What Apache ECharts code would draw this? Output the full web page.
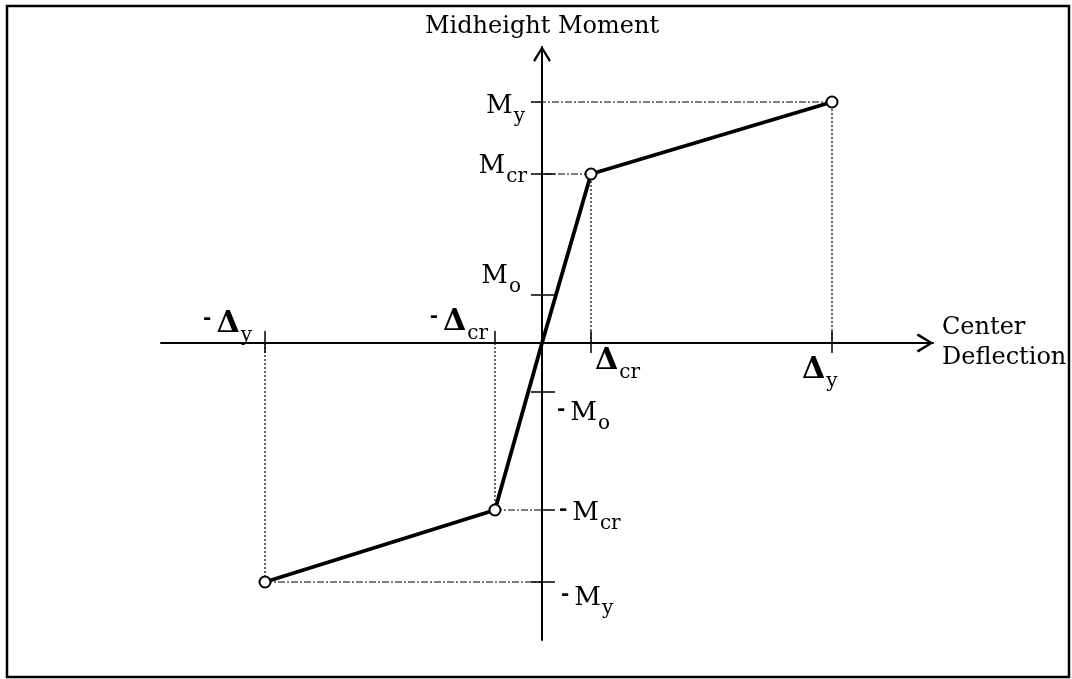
<!DOCTYPE html>
<html>
<head>
<meta charset="utf-8">
<script src="https://cdn.jsdelivr.net/npm/echarts@6/dist/echarts.min.js"></script>
<style>
  html, body { margin: 0; padding: 0; background: #fff; }
  #chart { width: 1072px; height: 679px; }
</style>
</head>
<body>
<div id="chart"></div>
<script>
// values (arbitrary units, origin at 0)
const curveX = [-2.77, -0.47, 0, 0.49, 2.90];
const curveY = [-2.39, -1.67, 0, 1.69, 2.41];

const momentTicks = [2.41, 1.69, 0.48, -0.49, -1.67, -2.39];
const momentTickLabels = ["M_y", "M_cr", "M_o", "-M_o", "-M_cr", "-M_y"];

const deflTicks = [-2.77, -0.47, 0.49, 2.90];
const deflTickLabels = ["-Δ_y", "-Δ_cr", "Δ_cr", "Δ_y"];

const FONT = "DejaVu Serif";

// label placement relative to its tick: [dx, dy, align]
const momentLabelPos = [
  [-17, -9, "right"], [-15, -21, "right"], [-21, -32, "right"],
  [15, 8, "left"], [17, -10, "left"], [19, 3, "left"]
];
const deflLabelPos = [
  [-13, -34, "right"], [-7, -36, "right"], [4, 3, "left"], [-30, 12, "left"]
];

const toRich = (s) => {
  let out = "";
  let t = s;
  if (t[0] === "-") { out += "{d|-}"; t = t.slice(1); }
  const [base, sub] = t.split("_");
  if (base === "Δ") {
    out += "{D|Δ}{ds|" + sub + "}";
  } else {
    out += "{m|" + base + "}{s|" + sub + "}";
  }
  return out;
};

const rich = {
  m: { fontFamily: FONT, fontSize: 26, lineHeight: 28, color: "#000", verticalAlign: "top" },
  s: { fontFamily: FONT, fontSize: 20, lineHeight: 20, color: "#000", verticalAlign: "top", padding: [14, 0, 0, 1] },
  d: { fontFamily: FONT, fontSize: 20, fontWeight: "bold", lineHeight: 28, color: "#000", verticalAlign: "top", padding: [0, 5, 0, 0] },
  D: { fontFamily: FONT, fontSize: 30, fontWeight: "bold", lineHeight: 30, color: "#000", verticalAlign: "top" },
  ds: { fontFamily: FONT, fontSize: 20, lineHeight: 20, color: "#000", verticalAlign: "top", padding: [17, 0, 0, 1] }
};

const makeLabel = (text, p) => ({
  show: true, color: "#000", opacity: 1, textBorderWidth: 0,
  formatter: toRich(text), position: [p[0], p[1]], align: p[2], verticalAlign: "top", rich
});

const labelItems = [];
momentTicks.forEach((v, i) => {
  labelItems.push({ value: [0, v], label: makeLabel(momentTickLabels[i], momentLabelPos[i]) });
});
deflTicks.forEach((v, i) => {
  labelItems.push({ value: [v, 0], label: makeLabel(deflTickLabels[i], deflLabelPos[i]) });
});

// dotted guides from each corner point back to the axes
const guideV = [];
const guideH = [];
curveX.forEach((x, i) => {
  if (x === 0) return;
  guideV.push([x, 0], [x, curveY[i]], "-");
  guideH.push([x, curveY[i]], [0, curveY[i]], "-");
});

const chevron = "path://M10,0 L20,16 L18,18 L10,4.5 L2,18 L0,16 Z";

const axisLineBase = (show) => ({
  show: true,
  onZero: true,
  onZeroAxisIndex: 0,
  lineStyle: { color: show ? "#000" : "rgba(0,0,0,0)", width: 2 }
});

const option = {
  backgroundColor: "#fff",
  animation: false,
  grid: { left: 161, right: 139, top: 47, bottom: 39 },
  graphic: [
    {
      type: "rect",
      shape: { x: 7, y: 6, width: 1062, height: 671 },
      style: { fill: "none", stroke: "#000", lineWidth: 2.5 },
      z: 100
    }
  ],
  xAxis: [
    {
      type: "value", position: "bottom", min: -3.81, max: 3.91,
      name: "Center\nDeflection", nameLocation: "end", nameGap: 9,
      nameTextStyle: { fontFamily: FONT, fontSize: 24, color: "#000", align: "left", lineHeight: 30, padding: [13, 0, 0, 0] },
      axisLine: Object.assign(axisLineBase(true), { symbol: ["none", chevron], symbolSize: [19, 17], symbolOffset: [0, -8] }),
      axisTick: { show: true, length: 10, customValues: [deflTicks[0], deflTicks[2], deflTicks[3]], lineStyle: { color: "#000", width: 1.5 } },
      axisLabel: { show: false },
      splitLine: { show: false }
    },
    {
      type: "value", position: "top", min: -3.81, max: 3.91,
      axisLine: axisLineBase(false),
      axisTick: { show: true, length: 12, customValues: deflTicks, lineStyle: { color: "#000", width: 1.5 } },
      axisLabel: { show: false },
      splitLine: { show: false }
    }
  ],
  yAxis: [
    {
      type: "value", position: "left", min: -2.97, max: 2.96,
      name: "Midheight Moment", nameLocation: "end", nameGap: 8,
      nameTextStyle: { fontFamily: FONT, fontSize: 24, color: "#000" },
      axisLine: Object.assign(axisLineBase(true), { symbol: ["none", chevron], symbolSize: [18, 16], symbolOffset: [0, -7] }),
      axisTick: { show: true, length: 11, customValues: [momentTicks[0], momentTicks[1], momentTicks[2], momentTicks[3], momentTicks[5]], lineStyle: { color: "#000", width: 1.5 } },
      axisLabel: { show: false },
      splitLine: { show: false }
    },
    {
      type: "value", position: "right", min: -2.97, max: 2.96,
      axisLine: axisLineBase(false),
      axisTick: { show: true, length: 13, customValues: [momentTicks[1], momentTicks[2], momentTicks[3], momentTicks[4], momentTicks[5]], lineStyle: { color: "#000", width: 1.5 } },
      axisLabel: { show: false },
      splitLine: { show: false }
    }
  ],
  series: [
    {
      name: "guideV", type: "line", data: guideV, symbol: "none", connectNulls: false,
      lineStyle: { color: "#000", width: 1.2, type: [2, 2] }, z: 2, silent: true
    },
    {
      name: "guideH", type: "line", data: guideH, symbol: "none", connectNulls: false,
      lineStyle: { color: "#000", width: 1.2, type: [7, 2, 2, 2] }, z: 2, silent: true
    },
    {
      name: "moment", type: "line",
      data: curveX.map((x, i) => (x === 0 ? { value: [x, curveY[i]], symbol: "none" } : [x, curveY[i]])),
      symbol: "circle", symbolSize: 11, showAllSymbol: true,
      lineStyle: { color: "#000", width: 3.8 },
      itemStyle: { color: "#fff", borderColor: "#000", borderWidth: 2 },
      z: 5
    },
    {
      name: "labels", type: "scatter", data: labelItems, symbolSize: 0,
      itemStyle: { color: "#000" }, z: 6, silent: true
    }
  ]
};

const myChart = echarts.init(document.getElementById("chart"));
myChart.setOption(option);
</script>
</body>
</html>
